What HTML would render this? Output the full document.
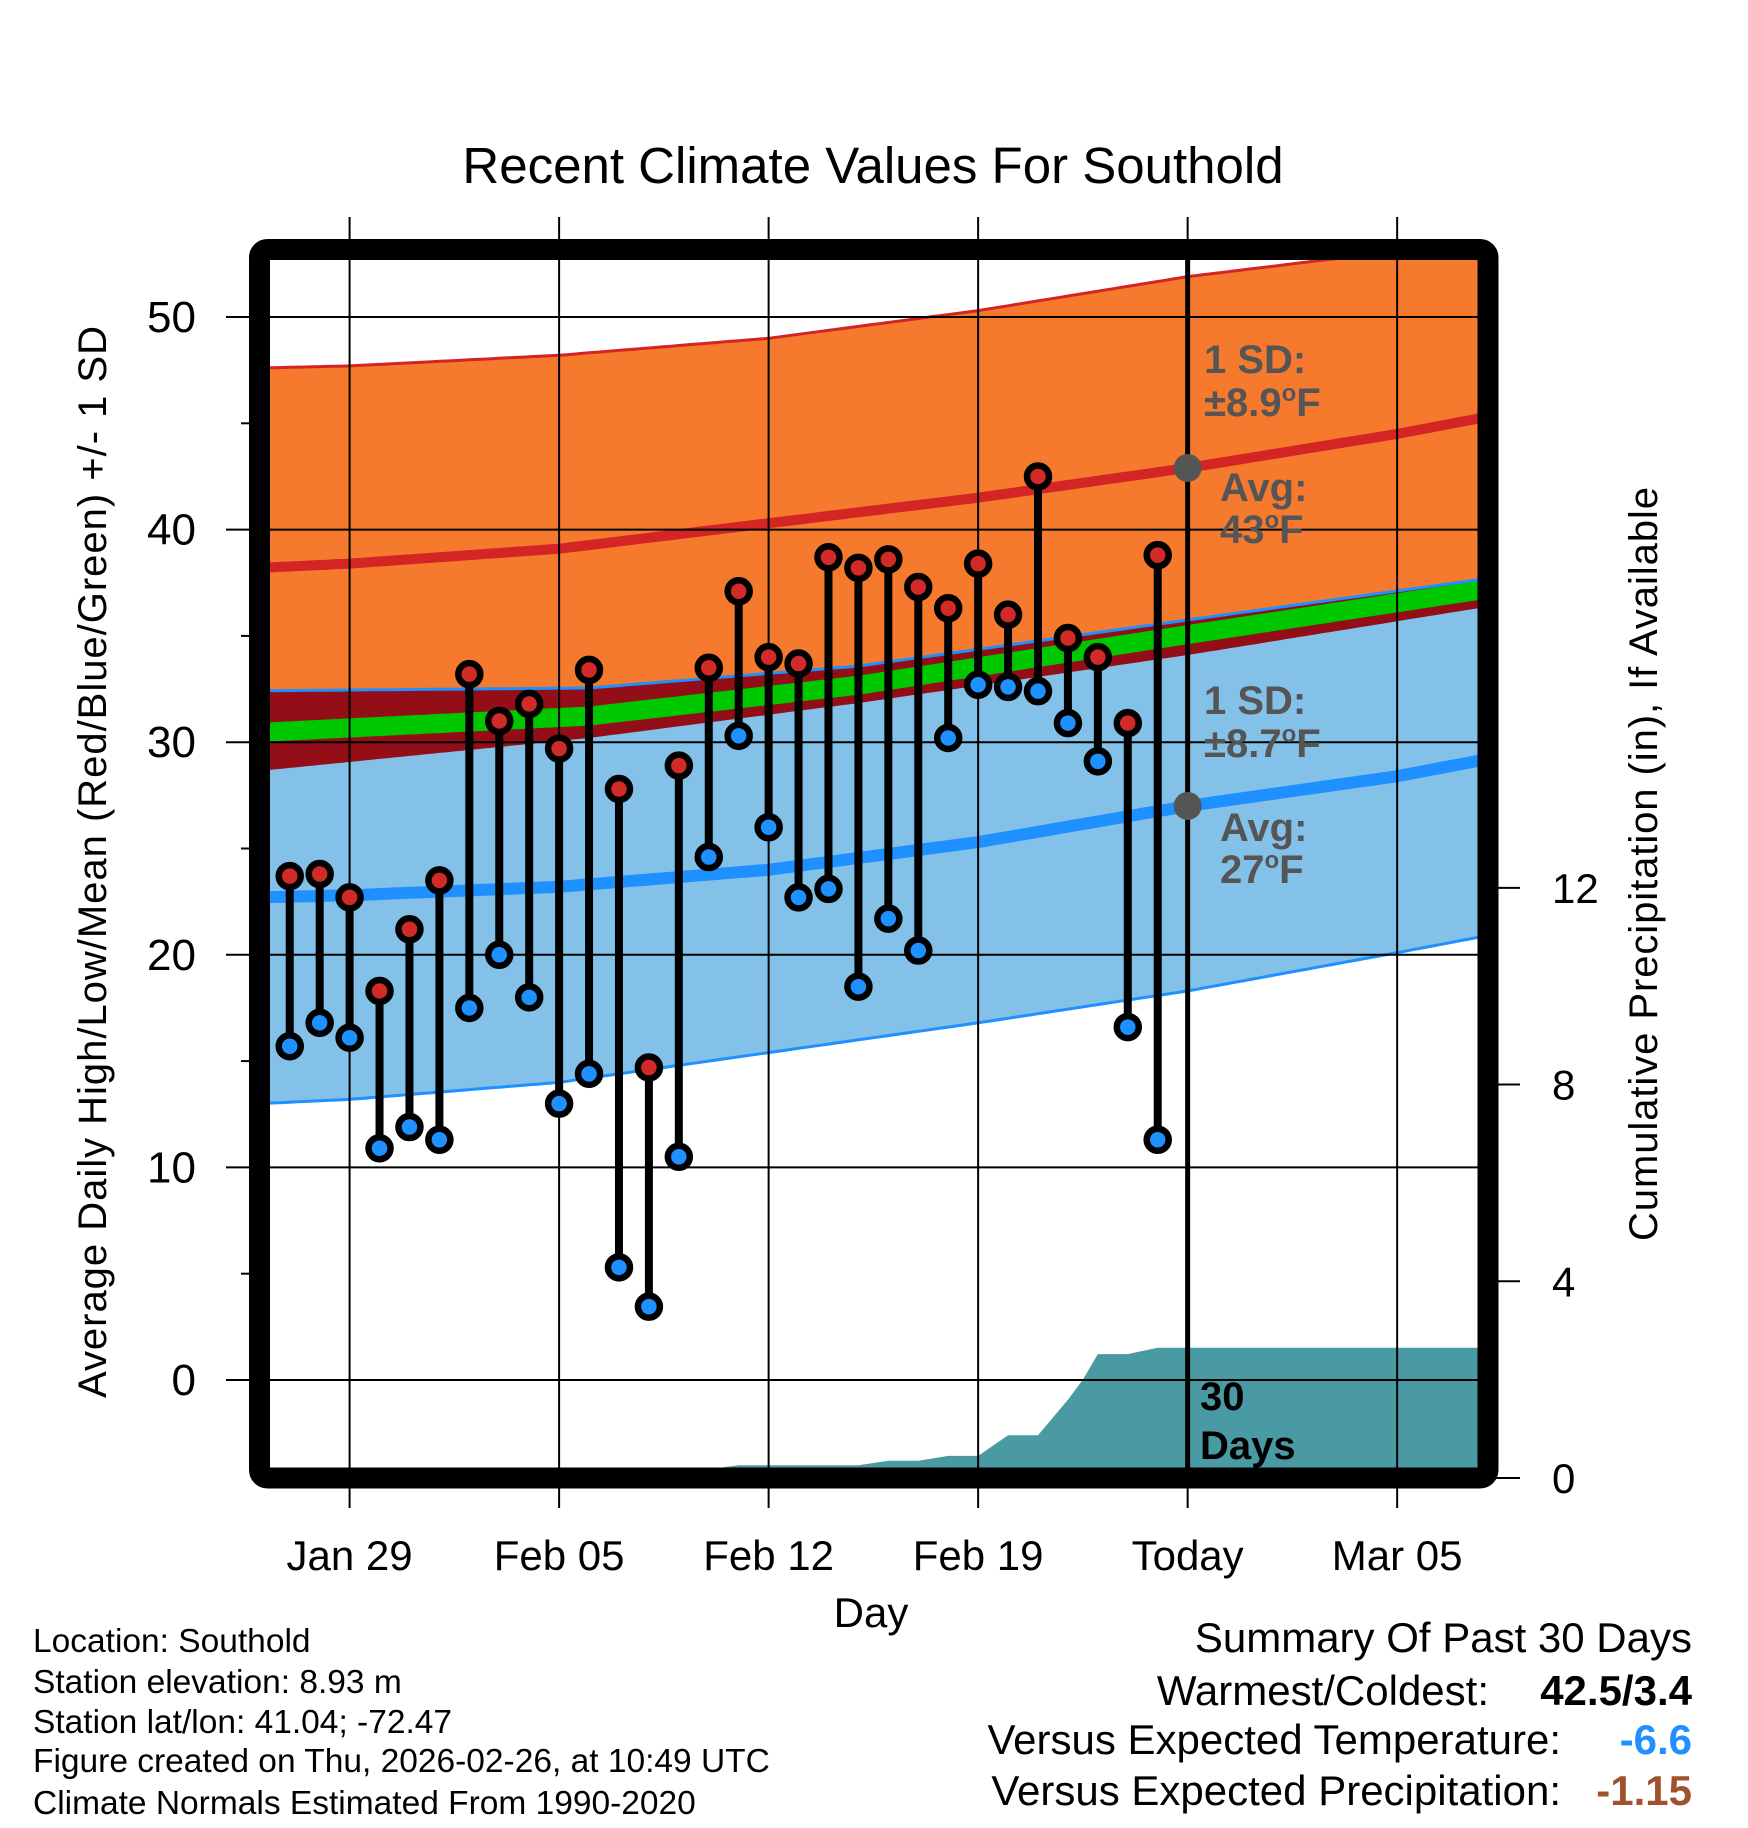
<!DOCTYPE html>
<html><head><meta charset="utf-8"><style>
html,body{margin:0;padding:0;background:#fff;}
svg{display:block;font-family:"Liberation Sans",Arial,sans-serif;}
</style></head><body>
<svg id="chart" width="1748" height="1828" viewBox="0 0 1748 1828" xmlns="http://www.w3.org/2000/svg">
<defs><clipPath id="plotClip"><rect x="270" y="260" width="1208" height="1208"/></clipPath></defs>
<rect width="1748" height="1828" fill="#fff"/>
<text x="873" y="183" font-size="51" text-anchor="middle">Recent Climate Values For Southold</text>
<g id="plot" clip-path="url(#plotClip)"></g>
<g id="over"></g>
</svg>
<script>
// ---- data ----
const normDays = [-3, 0, 7, 14, 21, 28, 35, 38];
const hiAvg  = [38.2, 38.4, 39.1, 40.3, 41.5, 42.9, 44.5, 45.3];
const hiUp   = [47.6, 47.7, 48.2, 49.0, 50.3, 51.9, 53.1, 53.6];
const loAvg  = [22.7, 22.8, 23.2, 24.0, 25.3, 27.0, 28.4, 29.2];
const loDown = [13.0, 13.2, 14.0, 15.4, 16.8, 18.3, 20.1, 20.9];
const bandDays = [-3, 8, 17, 28, 38];
const loUp   = [32.42, 32.55, 33.58, 35.75, 37.7];
const meanT  = [30.46, 31.23, 32.68, 35.06, 37.2];
const hiLow  = [28.65, 30.2, 31.84, 34.1, 36.37];
const obsDays = [-2,-1,0,1,2,3,4,5,6,7,8,9,10,11,12,13,14,15,16,17,18,19,20,21,22,23,24,25,26,27];
const highs = [23.7,23.8,22.7,18.3,21.2,23.5,33.2,31.0,31.8,29.7,33.4,27.8,14.7,28.9,33.5,37.1,34.0,33.7,38.7,38.2,38.6,37.3,36.3,38.4,36.0,42.5,34.9,34.0,30.9,38.8];
const lows  = [15.7,16.8,16.1,10.9,11.9,11.3,17.5,20.0,18.0,13.0,14.4,5.3,3.45,10.5,24.6,30.3,26.0,22.7,23.1,18.5,21.7,20.2,30.2,32.7,32.6,32.4,30.9,29.1,16.6,11.3];
const precipDays = [12.5, 13, 17, 18, 19, 20, 21, 22, 23, 24, 24.5, 25, 26, 27, 38.5];
const precipVals = [0.22, 0.26, 0.26, 0.35, 0.35, 0.45, 0.45, 0.87, 0.87, 1.59, 2.0, 2.52, 2.52, 2.65, 2.65];
const xTickDays = [0, 7, 14, 21, 28, 35];
const xTickLabels = ["Jan 29","Feb 05","Feb 12","Feb 19","Today","Mar 05"];
const yTicks = [0,10,20,30,40,50];
const yMinor = [-5,5,15,25,35,45];
const pTicks = [0,4,8,12];
const todayDay = 28;

// ---- scales ----
const X = d => 349.6 + d*29.93;
const Y = v => 1380 - v*21.26;
const P = p => 1478 - p*49.18;
const NS = "http://www.w3.org/2000/svg";
const plot = document.getElementById('plot');
const over = document.getElementById('over');
function mk(tag, attrs, parent, txt){
  const e = document.createElementNS(NS, tag);
  for (const k in attrs) e.setAttribute(k, attrs[k]);
  if (txt !== undefined) e.textContent = txt;
  parent.appendChild(e); return e;
}
function interp(days, vals, d){
  if (d <= days[0]) return vals[0];
  for (let i=1;i<days.length;i++){
    if (d <= days[i]){ const t=(d-days[i-1])/(days[i]-days[i-1]); return vals[i-1]+t*(vals[i]-vals[i-1]); }
  }
  return vals[vals.length-1];
}
const samp = []; for (let d=-3; d<=38.001; d+=0.25) samp.push(d);
function curve(days, vals, off){ return samp.map(d => [X(d), Y(interp(days, vals, d)+(off||0))]); }
function band(lowPts, highPts){ return lowPts.concat(highPts.slice().reverse()).map(p=>p[0].toFixed(1)+','+p[1].toFixed(1)).join(' '); }
function pl(pts){ return pts.map(p=>p[0].toFixed(1)+','+p[1].toFixed(1)).join(' '); }

let e;
e = mk('polygon',{points:band(curve(normDays,loDown),curve(bandDays,loUp)),fill:'#84C1E8'},plot);
 
e = mk('polygon',{points:band(curve(bandDays,loUp),curve(normDays,hiUp)),fill:'#F57A2E'},plot);
 
e = mk('polygon',{points:band(curve(bandDays,hiLow),curve(bandDays,loUp)),fill:'#930E16'},plot);
 
e = mk('polygon',{points:band(curve(bandDays,meanT,-0.45),curve(bandDays,meanT,0.45)),fill:'#00C800'},plot);
 
e = mk('polyline',{points:pl(curve(normDays,hiUp)),fill:'none',stroke:'#D42424','stroke-width':3},plot);
 
e = mk('polyline',{points:pl(curve(bandDays,loUp)),fill:'none',stroke:'#1E90FF','stroke-width':3},plot);
 
e = mk('polyline',{points:pl(curve(normDays,loDown)),fill:'none',stroke:'#1E90FF','stroke-width':3},plot);
 
e = mk('polyline',{points:pl(curve(normDays,hiAvg)),fill:'none',stroke:'#D42424','stroke-width':10},plot);
 
e = mk('polyline',{points:pl(curve(normDays,loAvg)),fill:'none',stroke:'#1E90FF','stroke-width':12},plot);
 

// precipitation
const pp = [[X(precipDays[0]), P(0)]];
precipDays.forEach((d,i)=>pp.push([X(d), P(precipVals[i])]));
pp.push([X(precipDays[precipDays.length-1]), P(0)]);
e = mk('polygon',{points:pl(pp),fill:'#4A9AA4'},plot);
 

// gridlines
xTickDays.forEach(d=>{
  const g = mk('line',{x1:X(d),x2:X(d),y1:217,y2:1508,stroke:'#000','stroke-width':2},over);
   
});
yTicks.forEach(v=>{
  const g = mk('line',{x1:226,x2:1478,y1:Y(v),y2:Y(v),stroke:'#000','stroke-width':2},over);
   
});
yMinor.forEach(v=>{
  if (Y(v) < 260 || Y(v) > 1468) return;
  const g = mk('line',{x1:241,x2:252,y1:Y(v),y2:Y(v),stroke:'#000','stroke-width':2},over);
   
});
pTicks.forEach(p=>{
  const g = mk('line',{x1:1490,x2:1520,y1:P(p),y2:P(p),stroke:'#000','stroke-width':2},over);
   
  const t = mk('text',{x:1552,y:P(p)+15,'font-size':42},over,String(p));
   
});
yTicks.forEach(v=>{
  const t = mk('text',{x:196,y:Y(v)+15,'font-size':44,'text-anchor':'end'},over,String(v));
   
});
xTickDays.forEach((d,i)=>{
  const t = mk('text',{x:X(d),y:1570,'font-size':42,'text-anchor':'middle'},over,xTickLabels[i]);
   
});

// stems & dots
obsDays.forEach((d,i)=>{
  const s = mk('line',{x1:X(d),x2:X(d),y1:Y(highs[i]),y2:Y(lows[i]),stroke:'#000','stroke-width':8},over);
   
});
obsDays.forEach((d,i)=>{
  const h = mk('circle',{cx:X(d),cy:Y(highs[i]),r:11,fill:'#D22A26',stroke:'#000','stroke-width':6.5},over);
   
  const l = mk('circle',{cx:X(d),cy:Y(lows[i]),r:11,fill:'#1E90FF',stroke:'#000','stroke-width':6.5},over);
   
});

// today line
e = mk('line',{x1:X(todayDay),x2:X(todayDay),y1:250,y2:1478,stroke:'#000','stroke-width':5},over);
 
e = mk('circle',{cx:X(todayDay),cy:Y(interp(normDays,hiAvg,todayDay)),r:14,fill:'#555'},over);
 
e = mk('circle',{cx:X(todayDay),cy:Y(interp(normDays,loAvg,todayDay)),r:14,fill:'#555'},over);
 

// frame
e = mk('rect',{x:259.5,y:249.5,width:1228.5,height:1228.5,rx:8,fill:'none',stroke:'#000','stroke-width':21},over);
 
</script>
<svg style="position:absolute;left:0;top:0" width="1748" height="1828" viewBox="0 0 1748 1828" xmlns="http://www.w3.org/2000/svg" font-family="Liberation Sans, Arial, sans-serif">
<g font-weight="bold" font-size="40" fill="#555">
<text x="1204" y="373">1 SD:</text>
<text x="1204" y="416">±8.9<tspan font-size="24" dy="-15">o</tspan><tspan dy="15">F</tspan></text>
<text x="1220" y="501">Avg:</text>
<text x="1220" y="543">43<tspan font-size="24" dy="-15">o</tspan><tspan dy="15">F</tspan></text>
<text x="1204" y="714">1 SD:</text>
<text x="1204" y="757">±8.7<tspan font-size="24" dy="-15">o</tspan><tspan dy="15">F</tspan></text>
<text x="1220" y="841">Avg:</text>
<text x="1220" y="883">27<tspan font-size="24" dy="-15">o</tspan><tspan dy="15">F</tspan></text>
</g>
<g font-weight="bold" font-size="40" fill="#000">
<text x="1200" y="1410">30</text>
<text x="1200" y="1459">Days</text>
</g>
<text x="871" y="1627" font-size="42" text-anchor="middle">Day</text>
<text transform="translate(106,862) rotate(-90)" font-size="40" text-anchor="middle" textLength="1072">Average Daily High/Low/Mean (Red/Blue/Green) +/- 1 SD</text>
<text transform="translate(1657,864) rotate(-90)" font-size="40" text-anchor="middle" textLength="754">Cumulative Precipitation (in), If Available</text>
<g font-size="33.5" fill="#000">
<text x="33" y="1652">Location: Southold</text>
<text x="33" y="1693">Station elevation: 8.93 m</text>
<text x="33" y="1733">Station lat/lon: 41.04; -72.47</text>
<text x="33" y="1772">Figure created on Thu, 2026-02-26, at 10:49 UTC</text>
<text x="33" y="1814">Climate Normals Estimated From 1990-2020</text>
</g>
<g font-size="42" text-anchor="end">
<text x="1692" y="1652">Summary Of Past 30 Days</text>
<text x="1489" y="1705">Warmest/Coldest:</text>
<text x="1692" y="1705" font-weight="bold">42.5/3.4</text>
<text x="1561" y="1754">Versus Expected Temperature:</text>
<text x="1692" y="1754" font-weight="bold" fill="#1E90FF">-6.6</text>
<text x="1561" y="1805">Versus Expected Precipitation:</text>
<text x="1692" y="1805" font-weight="bold" fill="#A0522D">-1.15</text>
</g>
</svg>
</body></html>
